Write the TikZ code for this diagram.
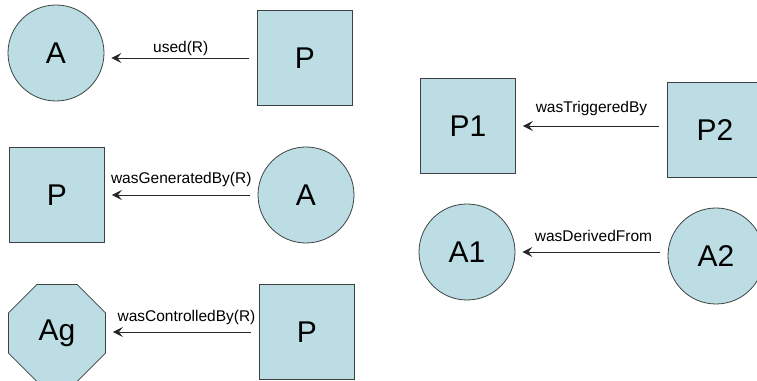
\documentclass[tikz,border=0pt]{standalone}
\usepackage{fontspec}
\setmainfont{Liberation Sans}
\usetikzlibrary{shapes.geometric,arrows.meta}
\definecolor{nodefill}{RGB}{187,221,227}
\definecolor{nodeline}{RGB}{60,66,66}
\tikzset{
  base/.style={draw=nodeline, line width=0.8pt, fill=nodefill, inner sep=0pt, font=\fontsize{30}{32}\selectfont},
  ent/.style={base, circle, minimum size=96pt},
  proc/.style={base, rectangle, minimum size=95pt},
  agent/.style={base, regular polygon, regular polygon sides=8, minimum size=105pt},
  rel/.style={draw=black!85, line width=0.9pt, -{Stealth[length=10pt,width=10pt,inset=4pt]}, shorten >=7pt, shorten <=8pt},
  lab/.style={font=\fontsize{15.5}{17}\selectfont, above}
}
\begin{document}
\begin{tikzpicture}[x=1pt,y=1pt]
\useasboundingbox (0,0) rectangle (757,380);
% left column
\node[ent]  (a1)  at (56,327) {A};
\node[proc] (p1)  at (305,322) {P};
\node[proc] (p2)  at (57,185) {P};
\node[ent]  (a2)  at (306,185) {A};
\node[agent] (ag) at (57,47) {Ag};
\node[proc] (p3)  at (307,48) {P};
% right column
\node[proc] (pp1) at (468,254) {P1};
\node[proc] (pp2) at (715,250) {P2};
\node[ent]  (aa1) at (467,128) {A1};
\node[ent]  (aa2) at (716,124) {A2};
% connectors
\draw[rel] (p1.west) -- node[lab, inner sep=2pt] {used(R)} (p1.west -| a1.east);
\draw[rel] (a2.west) -- node[lab, inner sep=8pt] {wasGeneratedBy(R)} (p2.east);
\draw[rel] (p3.west) -- node[lab, inner sep=6.5pt, xshift=4pt] {wasControlledBy(R)} (p3.west -| ag.east);
\draw[rel] (pp1.east -| pp2.west) -- node[lab, inner sep=10pt] {wasTriggeredBy} (pp1.east);
\draw[rel] (aa1.east -| aa2.west) -- node[lab, inner sep=10pt, xshift=2pt] {wasDerivedFrom} (aa1.east);
\end{tikzpicture}
\end{document}
